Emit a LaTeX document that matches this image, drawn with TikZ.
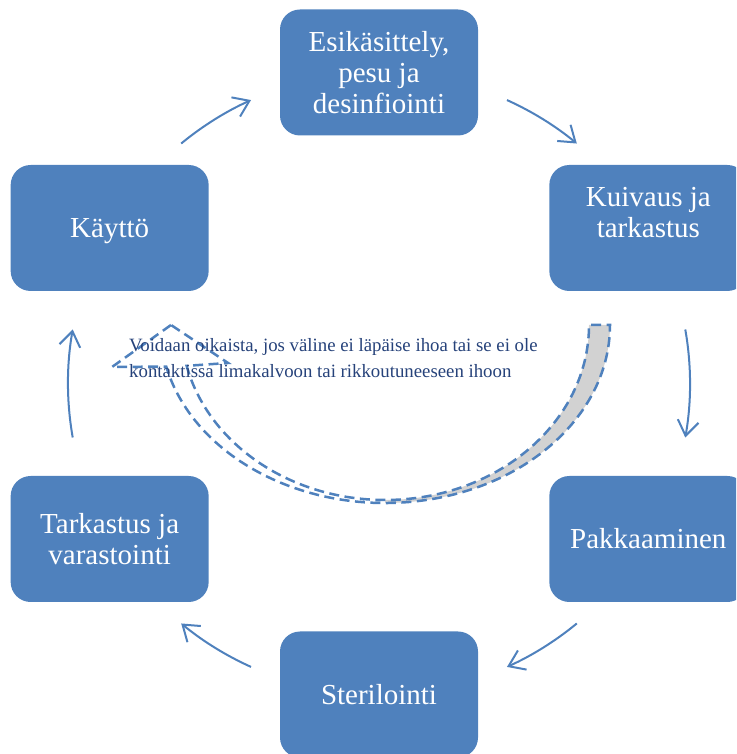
\documentclass[tikz,border=0pt]{standalone}
\usepackage{fontspec}
\setmainfont{Liberation Serif}
\usetikzlibrary{arrows.meta, positioning}
\definecolor{stepblue}{RGB}{79,129,189}
\definecolor{notetext}{RGB}{38,66,122}
\tikzset{
  phase/.style={fill=stepblue, rounded corners=20pt, minimum width=198pt, minimum height=126pt,
    inner sep=0pt, align=center, text=white, font=\fontsize{29}{31}\selectfont},
  cyclearrow/.style={draw=stepblue, line width=2pt, -{Straight Barb[length=15pt,width=21pt]}},
  backarrow/.style={draw=stepblue, line width=2.5pt, dash pattern=on 10pt off 5.5pt},
  note/.style={text=notetext, align=left, inner sep=0pt, font=\fontsize{18.8}{26}\selectfont}
}

\begin{document}
\begin{tikzpicture}[x=1pt,y=1pt]

            \clip (0,0) rectangle (736,754);

            % Define the centre and radius of the cycle
            \def\xc{379}
            \def\yc{370.5}
            \def\radius{311}
            \coordinate (mid) at (\xc, \yc);

            % Phases around the cycle
            \node[phase] (esik) at ([shift={(mid)}]90:\radius) {Esikäsittely,\\pesu ja\\desinfiointi};
            \node[phase] (kuivaus) at ([shift={(mid)}]30:\radius) {Kuivaus ja\\tarkastus\\~};
            \node[phase] (pakkaus) at ([shift={(mid)}]-30:\radius) {Pakkaaminen};
            \node[phase] (steril) at ([shift={(mid)}]-90:\radius) {Sterilointi};
            \node[phase] (varasto) at ([shift={(mid)}]-150:\radius) {Tarkastus ja\\varastointi};
            \node[phase, text depth=0pt] (kaytto) at ([shift={(mid)}]150:\radius) {Käyttö};

            % Arrows between the phases
            \draw[cyclearrow] ([shift={(mid)}]129.5:\radius) arc [start angle=129.5, end angle=114.3, radius=\radius];
            \draw[cyclearrow] ([shift={(mid)}]65.7:\radius) arc [start angle=65.7, end angle=50.5, radius=\radius];
            \draw[cyclearrow] ([shift={(mid)}]10:\radius) arc [start angle=10, end angle=-10, radius=\radius];
            \draw[cyclearrow] ([shift={(mid)}]-50.5:\radius) arc [start angle=-50.5, end angle=-65.7, radius=\radius];
            \draw[cyclearrow] ([shift={(mid)}]-114.3:\radius) arc [start angle=-114.3, end angle=-129.5, radius=\radius];
            \draw[cyclearrow] ([shift={(mid)}]-170:\radius) arc [start angle=-170, end angle=-190, radius=\radius];

            % Curved arrow back from drying to use
            \coordinate (bend) at (385, 429);
            \coordinate (tip) at (171, 429);
            \coordinate (headl) at (112, 387);
            \coordinate (headr) at (228, 391);
            \fill[gray!35] ([shift={(bend)}]270:225 and 178) arc [start angle=270, end angle=360, x radius=225, y radius=178]
                -- ([shift={(bend)}]0:204 and 175) arc [start angle=360, end angle=270, x radius=204, y radius=175] -- cycle;
            \draw[backarrow] (tip) -- (headl) -- ([shift={(bend)}]193.5:225 and 178)
                arc [start angle=193.5, end angle=360, x radius=225, y radius=178]
                -- ([shift={(bend)}]0:204 and 175)
                arc [start angle=360, end angle=193.5, x radius=204, y radius=175] -- (headr) -- cycle;
            \node[note, anchor=base west] (remark) at (129, 376) {Voidaan oikaista, jos väline ei läpäise ihoa tai se ei ole\\kontaktissa limakalvoon tai rikkoutuneeseen ihoon};

        \end{tikzpicture}
\end{document}
